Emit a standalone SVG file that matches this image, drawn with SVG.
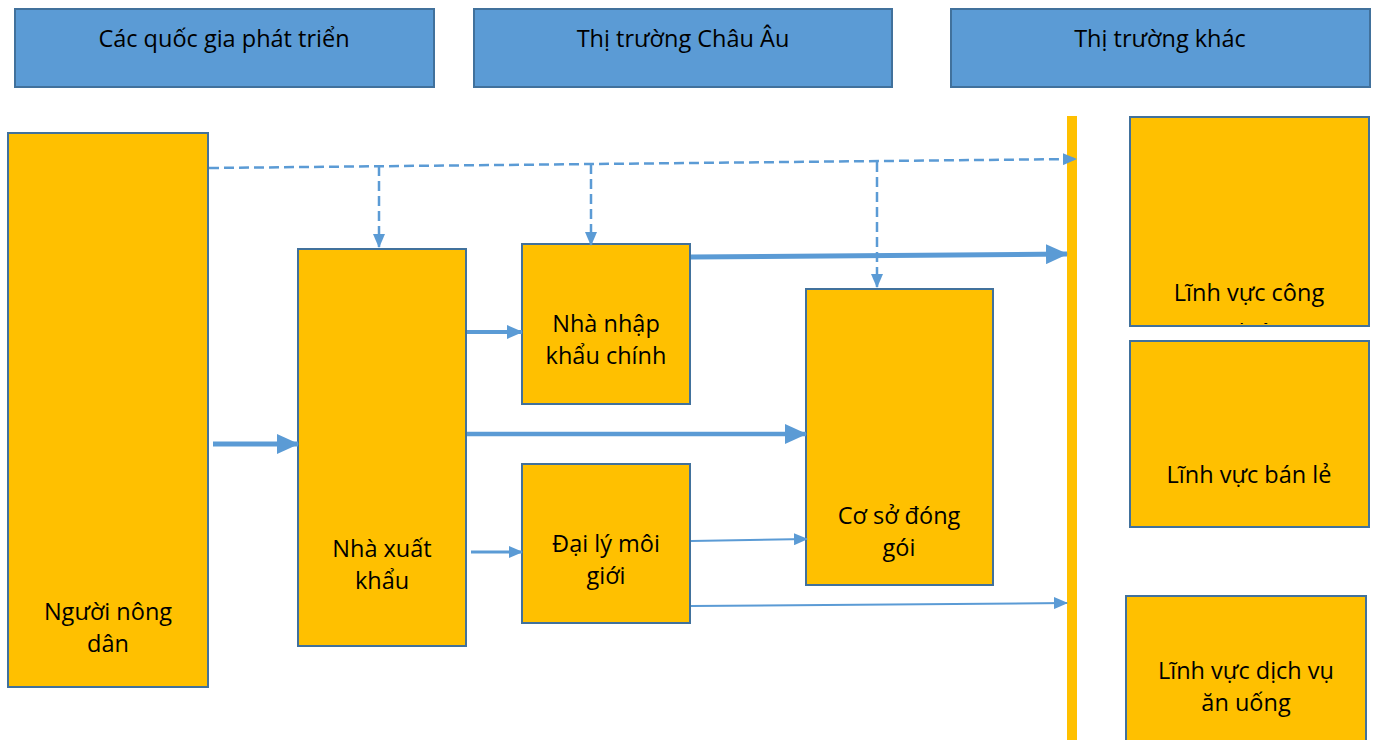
<svg xmlns="http://www.w3.org/2000/svg" width="1373" height="740" viewBox="0 0 1373 740">
  <style>
    .hdr { fill: #5B9BD5; stroke: #41719C; stroke-width: 2; }
    .box { fill: #FFC000; stroke: #41719C; stroke-width: 2; }
    .lbl { font-family: "Open Sans", "Noto Sans", sans-serif; font-size: 23.5px; fill: #000; text-anchor: middle; }
    .link { fill: none; stroke: #5B9BD5; }
    .dash { stroke-width: 2.5; stroke-dasharray: 10 5; }
  </style>
  <defs>
    <marker id="headL" markerUnits="userSpaceOnUse" markerWidth="22" markerHeight="20" refX="21" refY="10" orient="auto">
      <path d="M0,0 L22,10 L0,20 Z" fill="#5B9BD5"/>
    </marker>
    <marker id="headM" markerUnits="userSpaceOnUse" markerWidth="16" markerHeight="14" refX="15" refY="7" orient="auto">
      <path d="M0,0 L16,7 L0,14 Z" fill="#5B9BD5"/>
    </marker>
    <marker id="headS" markerUnits="userSpaceOnUse" markerWidth="14" markerHeight="12" refX="13" refY="6" orient="auto">
      <path d="M0,0 L14,6 L0,12 Z" fill="#5B9BD5"/>
    </marker>
    <clipPath id="clipIndustry">
      <rect x="1131" y="118" width="237" height="206"/>
    </clipPath>
  </defs>

  <!-- market headers -->
  <g id="hdr-developed">
    <rect class="hdr" x="15" y="9" width="419" height="78"/>
    <text class="lbl" x="224" y="47">Các quốc gia phát triển</text>
  </g>
  <g id="hdr-europe">
    <rect class="hdr" x="474" y="9" width="418" height="78"/>
    <text class="lbl" x="683" y="47">Thị trường Châu Âu</text>
  </g>
  <g id="hdr-other">
    <rect class="hdr" x="951" y="9" width="419" height="78"/>
    <text class="lbl" x="1160" y="47">Thị trường khác</text>
  </g>

  <!-- supply chain nodes -->
  <g id="farmer">
    <rect class="box" x="8" y="133" width="200" height="554"/>
    <text class="lbl" x="108" y="620">Người nông</text>
    <text class="lbl" x="108" y="652">dân</text>
  </g>
  <g id="exporter">
    <rect class="box" x="298" y="249" width="168" height="397"/>
    <text class="lbl" x="382" y="557">Nhà xuất</text>
    <text class="lbl" x="382" y="589">khẩu</text>
  </g>
  <g id="importer">
    <rect class="box" x="522" y="244" width="168" height="160"/>
    <text class="lbl" x="606" y="332">Nhà nhập</text>
    <text class="lbl" x="606" y="364">khẩu chính</text>
  </g>
  <g id="broker">
    <rect class="box" x="522" y="464" width="168" height="159"/>
    <text class="lbl" x="606" y="552">Đại lý môi</text>
    <text class="lbl" x="606" y="584">giới</text>
  </g>
  <g id="packer">
    <rect class="box" x="806" y="289" width="187" height="296"/>
    <text class="lbl" x="899" y="524">Cơ sở đóng</text>
    <text class="lbl" x="899" y="556">gói</text>
  </g>

  <!-- market boundary bar -->
  <g id="boundary">
    <rect x="1067" y="116" width="10" height="624" fill="#FFC000"/>
  </g>

  <!-- end sectors -->
  <g id="industry">
    <rect class="box" x="1130" y="117" width="239" height="209"/>
    <g clip-path="url(#clipIndustry)">
      <text class="lbl" x="1249" y="301">Lĩnh vực công</text>
      <text class="lbl" x="1249" y="341">nghiệp</text>
    </g>
  </g>
  <g id="retail">
    <rect class="box" x="1130" y="341" width="239" height="186"/>
    <text class="lbl" x="1249" y="483">Lĩnh vực bán lẻ</text>
  </g>
  <g id="food-service">
    <rect class="box" x="1126" y="596" width="240" height="150"/>
    <text class="lbl" x="1246" y="679">Lĩnh vực dịch vụ</text>
    <text class="lbl" x="1246" y="711">ăn uống</text>
  </g>

  <!-- connectors -->
  <g id="connectors">
    <line class="link dash" x1="209" y1="168" x2="1076" y2="159" marker-end="url(#headS)"/>
    <line class="link dash" x1="379" y1="166" x2="379" y2="247" marker-end="url(#headS)"/>
    <line class="link dash" x1="591" y1="164" x2="591" y2="245" marker-end="url(#headS)"/>
    <line class="link dash" x1="877" y1="162" x2="877" y2="287" marker-end="url(#headS)"/>

    <line class="link" stroke-width="5" x1="691" y1="257" x2="1067" y2="254" marker-end="url(#headL)"/>
    <line class="link" stroke-width="5" x1="213" y1="444" x2="298" y2="444" marker-end="url(#headL)"/>
    <line class="link" stroke-width="4.5" x1="467" y1="434" x2="806" y2="434" marker-end="url(#headL)"/>
    <line class="link" stroke-width="4" x1="467" y1="332" x2="522" y2="332" marker-end="url(#headM)"/>
    <line class="link" stroke-width="3" x1="471" y1="552" x2="522" y2="552" marker-end="url(#headS)"/>
    <line class="link" stroke-width="2" x1="691" y1="541" x2="807" y2="539" marker-end="url(#headS)"/>
    <line class="link" stroke-width="2" x1="691" y1="606" x2="1067" y2="603" marker-end="url(#headS)"/>
  </g>
</svg>
